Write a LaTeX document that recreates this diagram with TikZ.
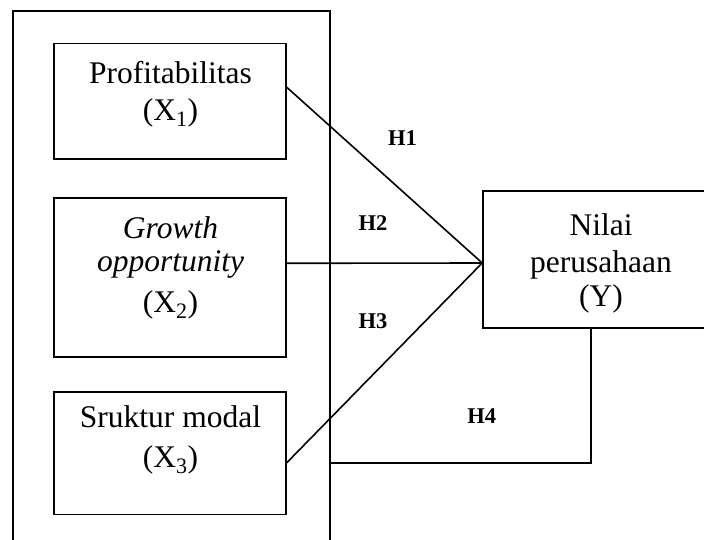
\documentclass[tikz,border=0pt]{standalone}
\usepackage{fontspec}
\setmainfont{Liberation Serif}
\tikzset{
  frame/.style={draw=black, line width=1.6pt},
  varbox/.style={draw=black, line width=1.6pt, rectangle, inner sep=0pt},
  boxtext/.style={align=center, inner sep=0pt, font=\fontsize{31.5}{37}\selectfont, anchor=base},
  hyp/.style={inner sep=0pt, font=\fontsize{22.5}{26}\selectfont\bfseries, anchor=base},
  conn/.style={draw=black, line width=1.6pt}
}
\begin{document}
\begin{tikzpicture}[x=1pt,y=-1pt]
\useasboundingbox (0,0) rectangle (704,540);
\clip (0,0) rectangle (704,540);
\fill[white] (0,0) rectangle (704,540);
% outer frame (open at the bottom)
\draw[frame] (13,560) -- (13,11) -- (330,11) -- (330,560);
\coordinate (h4end) at (330,463);
% variable boxes
\node[varbox, minimum width=232pt, minimum height=115.3pt] (x1) at (170,101.3) {};
\node[varbox, minimum width=232pt, minimum height=158.4pt] (x2) at (170,277.5) {};
\node[varbox, minimum width=232pt, minimum height=122.3pt] (x3) at (170,453.2) {};
\node[varbox, minimum width=236pt, minimum height=137pt] (y) at (601,259.5) {};
% texts (anchor base = baseline of the last line)
\node[boxtext] (t1) at (170.5,120.5) {Profitabilitas\\(X\textsubscript{1})};
\node[boxtext] (t2) at (170.5,312.5) {\itshape Growth\\[-4pt]\itshape opportunity\\[4pt](X\textsubscript{2})};
\node[boxtext] (t3) at (170.5,467) {Sruktur modal\\[3pt](X\textsubscript{3})};
\node[boxtext] (ty) at (601,306.5) {Nilai\\perusahaan\\[-3pt](Y)};
% hypothesis labels
\node[hyp] (h1) at (402.5,146) {H1};
\node[hyp] (h2) at (373,230) {H2};
\node[hyp] (h3) at (373,328.3) {H3};
\node[hyp] (h4) at (481.7,423.3) {H4};
% connectors
\coordinate (conv) at ([yshift=-3.5pt]y.west);
\draw[conn] ([yshift=14pt]x1.east) -- (conv);
\draw[conn] ([yshift=14.2pt]x2.east) -- (conv);
\draw[conn] ([yshift=-9.5pt]x3.east) -- (conv);
\draw[conn] ([xshift=-10pt]y.south) |- (h4end);
\end{tikzpicture}
\end{document}
